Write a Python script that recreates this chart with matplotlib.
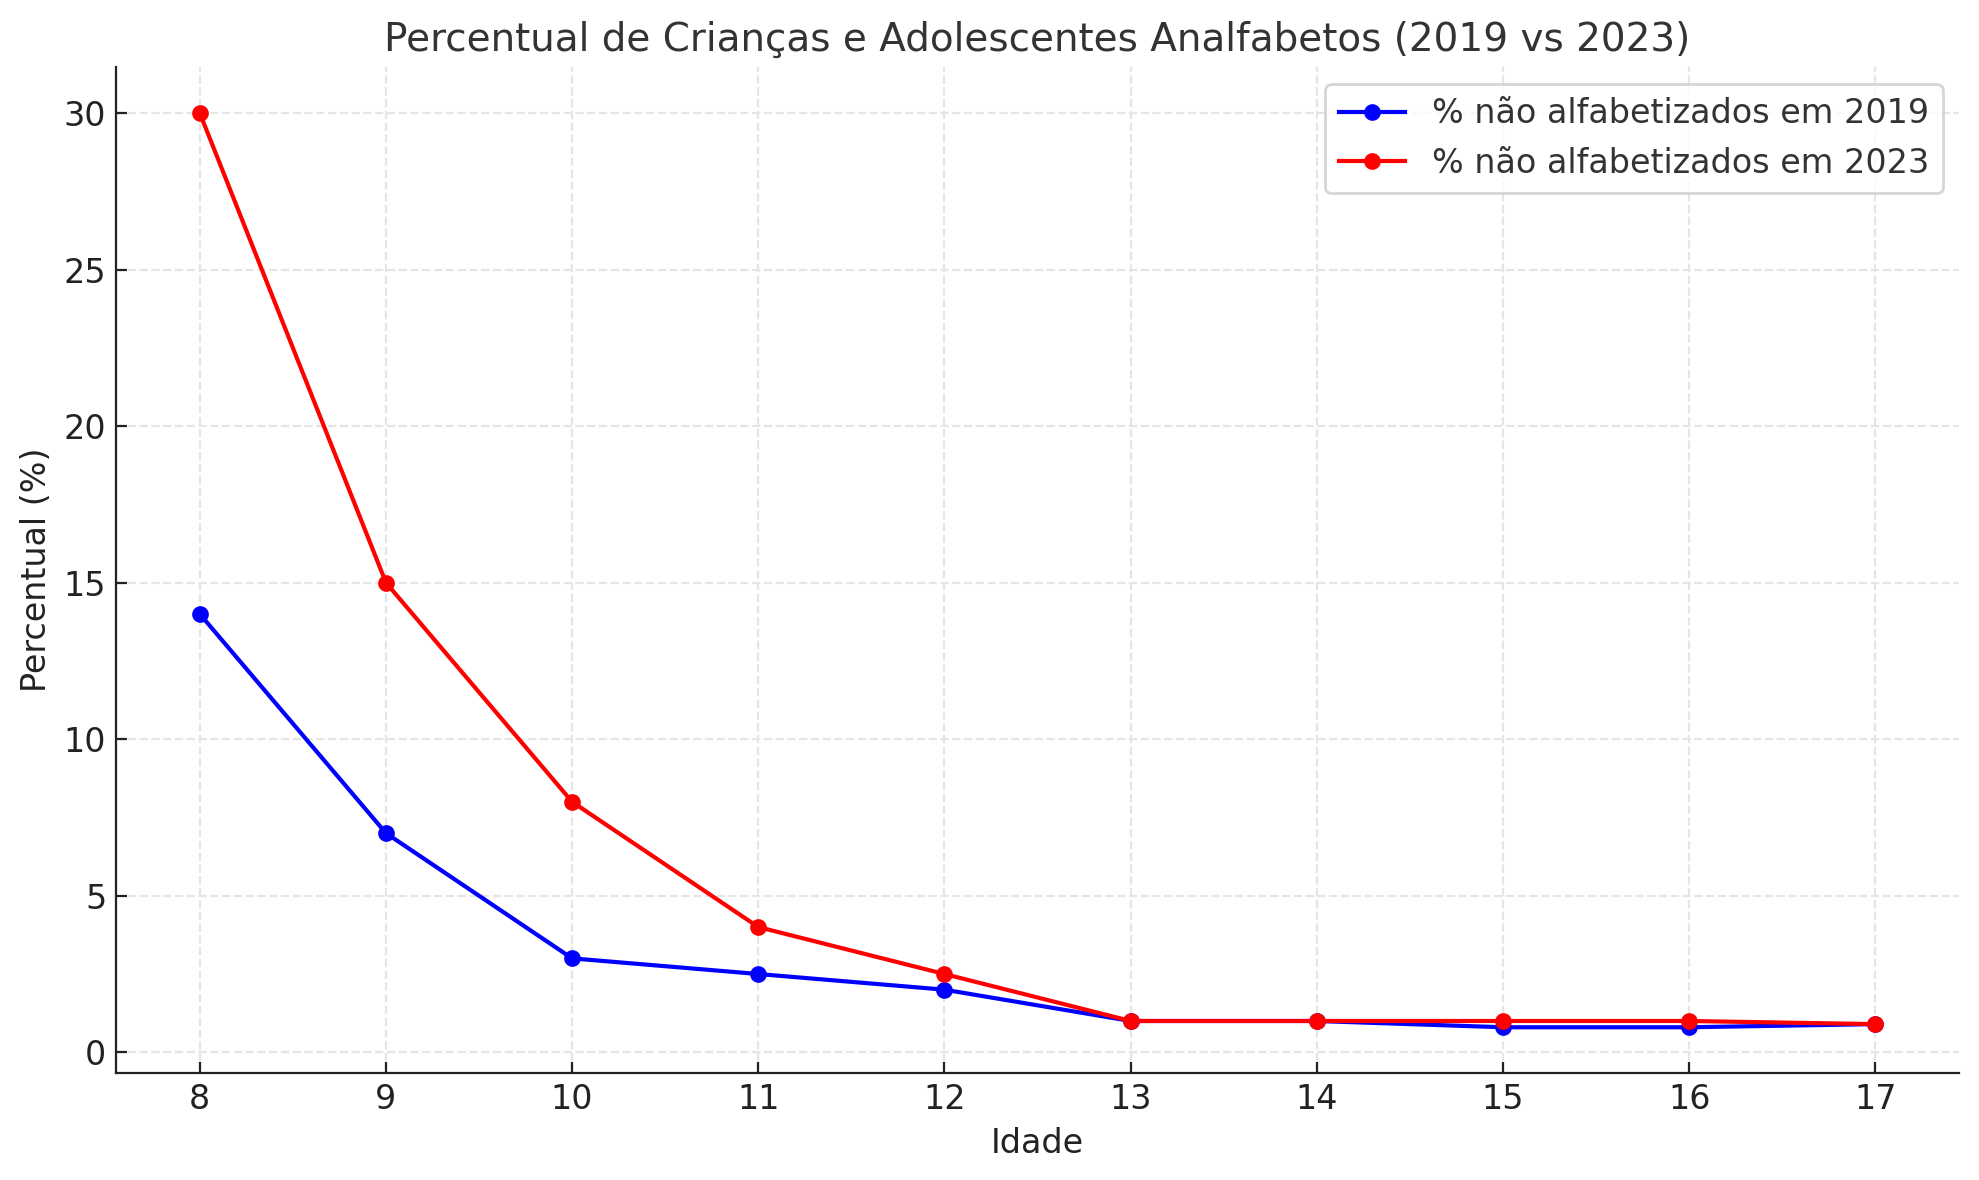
import matplotlib
matplotlib.use("Agg")
import matplotlib.pyplot as plt

idade = [8, 9, 10, 11, 12, 13, 14, 15, 16, 17]
pct_2019 = [14, 7, 3, 2.5, 2, 1, 1, 0.8, 0.8, 0.9]
pct_2023 = [30, 15, 8, 4, 2.5, 1, 1, 1, 1, 0.9]

plt.rcParams["font.family"] = "DejaVu Sans"
plt.rcParams["text.color"] = "#333333"
plt.rcParams["axes.labelcolor"] = "#222222"

fig, ax = plt.subplots(figsize=(9.895, 5.9), dpi=200)
fig.subplots_adjust(left=0.0586, right=0.990, top=0.943, bottom=0.0907)

ax.plot(idade, pct_2019, marker="o", color="blue", linewidth=1.5, markersize=5,
        label="% não alfabetizados em 2019")
ax.plot(idade, pct_2023, marker="o", color="red", linewidth=1.5, markersize=5,
        label="% não alfabetizados em 2023")

ax.set_xticks(idade)
ax.set_yticks([0, 5, 10, 15, 20, 25, 30])
ax.set_title("Percentual de Crianças e Adolescentes Analfabetos (2019 vs 2023)", fontsize=14)
ax.set_xlabel("Idade", fontsize=12)
ax.set_ylabel("Percentual (%)", fontsize=12)
ax.tick_params(labelsize=12, colors="#222222", direction="in", length=4)
ax.grid(True, linestyle="--", color="#e5e5e5", linewidth=0.8)
for s in ["left", "bottom"]:
    ax.spines[s].set_color("#222222")
ax.spines["top"].set_visible(False)
ax.spines["right"].set_visible(False)
ax.legend(fontsize=12, loc="upper right")

fig.savefig("out.png", dpi=200)
